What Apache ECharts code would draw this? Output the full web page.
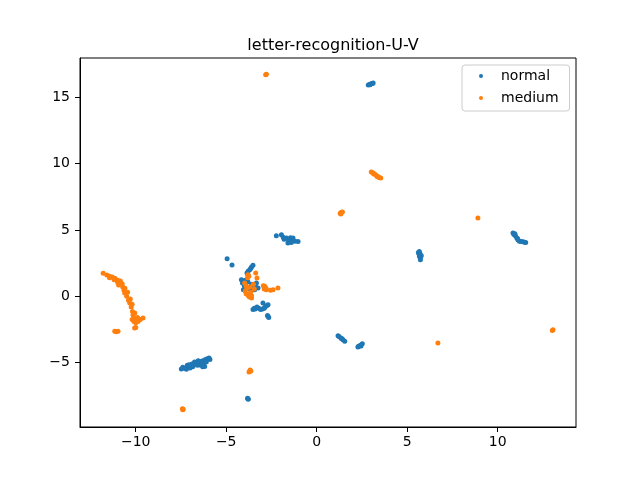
<!DOCTYPE html>
<html>
<head>
<meta charset="utf-8">
<title>letter-recognition-U-V</title>
<script src="https://cdn.jsdelivr.net/npm/echarts@6/dist/echarts.min.js"></script>
<style>
  html, body { margin: 0; padding: 0; background: #fff; }
  #chart { width: 640px; height: 480px; }
</style>
</head>
<body>
<div id="chart"></div>
<script>
// 两个类别的点
const seriesNames = ['normal', 'medium'];
const xTicks = [-10, -5, 0, 5, 10];
const yTicks = [-5, 0, 5, 10, 15];

const normalPoints = [
  [2.85, 15.9], [2.92, 15.95], [3.0, 16.0], [3.08, 16.02], [3.12, 16.05], [2.95, 15.92],
  [-2.23, 4.56], [-1.95, 4.64], [-1.85, 4.45], [-1.75, 4.35], [-1.67, 4.39], [-1.55, 4.3],
  [-1.59, 4.01], [-1.45, 4.4], [-1.31, 4.39], [-1.35, 4.2], [-1.2, 4.15], [-1.03, 4.13], [-1.5, 4.15],
  [-1.8, 4.3], [-1.4, 4.05],
  [5.67, 3.38], [5.7, 3.25], [5.72, 3.1], [5.68, 3.0], [5.73, 2.88], [5.73, 2.75], [5.65, 3.2],
  [5.78, 3.05], [5.62, 3.3],
  [10.85, 4.76], [10.9, 4.65], [10.98, 4.55], [11.05, 4.4], [11.12, 4.26], [11.2, 4.15],
  [11.3, 4.12], [11.4, 4.1], [11.49, 4.06], [11.55, 4.05], [10.95, 4.7], [11.1, 4.35],
  [1.18, -2.97], [1.25, -3.05], [1.35, -3.15], [1.45, -3.28], [1.55, -3.39], [1.4, -3.2],
  [2.28, -3.82], [2.35, -3.75], [2.42, -3.68], [2.52, -3.57], [2.3, -3.78], [2.45, -3.75],
  [-7.48, -5.47], [-7.3, -5.42], [-7.1, -5.35], [-6.95, -5.25], [-6.83, -5.15], [-6.7, -5.08],
  [-6.6, -5.0], [-6.46, -4.9], [-6.3, -4.85], [-6.15, -4.75], [-5.95, -4.65], [-6.05, -4.7],
  [-6.19, -5.28], [-6.25, -5.1], [-6.5, -5.15], [-6.75, -4.95], [-7.0, -5.4], [-6.9, -5.1],
  [-6.4, -5.2], [-7.2, -5.5], [-7.4, -5.35], [-7.15, -5.2], [-6.85, -5.3], [-6.6, -5.2],
  [-6.35, -5.0], [-6.1, -4.95], [-5.9, -4.75], [-6.55, -4.85], [-7.05, -5.15], [-6.3, -5.3],
  [-3.8, -7.71], [-3.78, -7.75], [-3.82, -7.68],
  [-4.95, 2.83], [-4.68, 2.35], [-3.79, 1.88], [-3.7, 2.0], [-3.6, 2.2], [-3.52, 2.33],
  [-4.16, 1.25], [-4.1, 1.0], [-4.0, 0.8], [-3.9, 0.6], [-3.8, 1.1], [-3.6, 0.9], [-3.4, 0.8],
  [-3.43, 0.5], [-3.24, 0.62], [-3.33, 1.0], [-4.05, 0.5], [-3.95, 1.2], [-3.8, 1.63],
  [-3.65, 2.1], [-3.85, 1.75], [-3.5, 0.65], [-3.7, 0.55],
  [-3.52, -1.0], [-3.4, -0.95], [-3.2, -0.9], [-3.0, -0.95], [-2.85, -0.8], [-2.97, -0.5],
  [-2.75, -0.7], [-3.3, -0.8], [-2.69, -0.63], [-2.69, -1.51], [-2.65, -1.6], [-2.72, -1.45],
  [-3.45, -0.9], [-3.1, -1.0], [-2.9, -0.9]
];

const mediumPoints = [
  [-2.82, 16.68], [-2.78, 16.72],
  [3.02, 9.36], [3.1, 9.3], [3.2, 9.2], [3.3, 9.1], [3.4, 9.0], [3.54, 8.9], [3.45, 8.95],
  [3.15, 9.2], [3.35, 9.0],
  [1.3, 6.25], [1.36, 6.32], [1.42, 6.35], [1.33, 6.2],
  [8.91, 5.89],
  [13.06, -2.51], [13.02, -2.58],
  [6.7, -3.52],
  [-11.8, 1.74], [-11.6, 1.6], [-11.44, 1.5], [-11.3, 1.45], [-11.15, 1.35], [-11.0, 1.2],
  [-10.88, 1.0], [-10.8, 0.9], [-10.72, 0.7], [-10.65, 0.45], [-10.61, 0.25], [-10.5, 0.0],
  [-10.4, -0.3], [-10.33, -0.5], [-10.25, -0.8], [-10.18, -1.14], [-10.15, -1.4], [-10.06, -1.63],
  [-9.95, -1.8], [-9.87, -1.89], [-9.75, -1.75], [-9.6, -1.63], [-10.1, -1.9], [-11.0, 1.05], [-10.95, 0.85],
  [-11.45, 1.4], [-11.2, 1.25], [-10.85, 1.15], [-10.75, 0.95], [-10.6, 0.6], [-10.45, 0.3],
  [-10.3, -0.2], [-10.2, -0.6], [-10.05, -1.25], [-10.2, -1.75], [-9.9, -1.6], [-10.0, -2.0],
  [-10.98, -2.64], [-11.16, -2.64], [-11.07, -2.66], [-10.06, -2.39], [-10.0, -2.35],
  [-3.7, -5.65], [-3.68, -5.55], [-3.74, -5.7], [-3.64, -5.62],
  [-7.42, -8.46], [-7.4, -8.55], [-7.38, -8.5],
  [-3.8, 1.63], [-3.75, 1.5], [-3.37, 1.75], [-3.3, 1.38], [-3.98, 1.0], [-3.9, 0.8],
  [-3.85, 0.6], [-3.95, 0.4], [-3.9, 0.2], [-3.8, 0.1], [-3.7, -0.05], [-3.6, -0.13],
  [-3.65, 0.3], [-3.7, 0.7], [-2.95, 0.8], [-2.87, 0.75], [-2.8, 0.6], [-2.78, 0.5],
  [-2.41, 0.5], [-2.14, 0.62], [-2.55, 0.45], [-3.5, 0.9], [-3.45, 0.55],
  [-3.82, 1.4], [-3.75, 0.0], [-3.6, 0.05], [-2.9, 0.55]
];

const colors = ['#1f77b4', '#ff7f0e'];
const fontFamily = '"DejaVu Sans", sans-serif';
const minus = v => String(v).replace('-', '\u2212');

const chart = echarts.init(document.getElementById('chart'), null, { renderer: 'canvas' });

chart.setOption({
  animation: false,
  backgroundColor: '#fff',
  title: {
    text: 'letter-recognition-U-V',
    left: 328,
    top: 33,
    textAlign: 'center',
    textStyle: { fontFamily, fontSize: 16, fontWeight: 'normal', color: '#000' }
  },
  legend: {
    data: seriesNames,
    orient: 'vertical',
    left: 462,
    top: 65,
    padding: [3, 11, 5, 17],
    itemGap: 6,
    itemWidth: 4,
    itemHeight: 4,
    icon: 'circle',
    borderColor: '#cccccc',
    borderWidth: 1,
    borderRadius: 3,
    backgroundColor: 'rgba(255,255,255,0.8)',
    textStyle: { fontFamily, fontSize: 14, color: '#000', lineHeight: 16, padding: [0, 0, 0, 13] }
  },
  grid: {
    left: 80,
    right: 64,
    top: 58,
    bottom: 53,
    show: true,
    borderColor: '#000',
    borderWidth: 1,
    containLabel: false
  },
  xAxis: {
    type: 'value',
    min: -13.08,
    max: 14.33,
    axisLine: { show: true, onZero: false, lineStyle: { color: '#000', width: 1 } },
    axisTick: { show: true, length: 5, customValues: xTicks, lineStyle: { color: '#000' } },
    axisLabel: {
      customValues: xTicks,
      margin: 8,
      fontFamily,
      fontSize: 14,
      color: '#000',
      formatter: minus
    },
    splitLine: { show: false }
  },
  yAxis: {
    type: 'value',
    min: -9.84,
    max: 17.94,
    axisLine: { show: true, onZero: false, lineStyle: { color: '#000', width: 1 } },
    axisTick: { show: true, length: 5, customValues: yTicks, lineStyle: { color: '#000' } },
    axisLabel: {
      customValues: yTicks,
      margin: 10,
      fontFamily,
      fontSize: 14,
      color: '#000',
      formatter: minus
    },
    splitLine: { show: false }
  },
  series: [
    {
      name: seriesNames[0],
      type: 'scatter',
      symbol: 'circle',
      symbolSize: 5,
      itemStyle: { color: colors[0], opacity: 1 },
      data: normalPoints
    },
    {
      name: seriesNames[1],
      type: 'scatter',
      symbol: 'circle',
      symbolSize: 5,
      itemStyle: { color: colors[1], opacity: 1 },
      data: mediumPoints
    }
  ]
});
</script>
</body>
</html>
